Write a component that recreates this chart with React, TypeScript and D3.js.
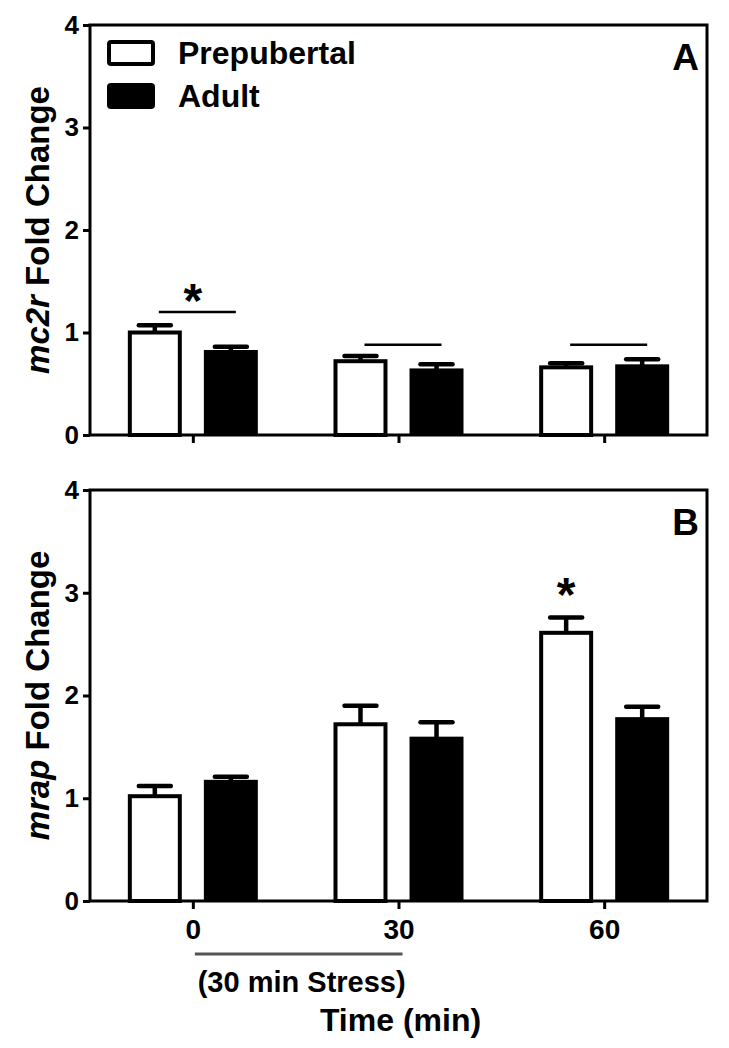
import { useEffect, useRef } from "react";
import * as d3 from "d3";

const WIDTH = 729;
const HEIGHT = 1048;
const FONT = "'Liberation Sans', Arial, sans-serif";

const groups = ["0", "30", "60"];
const series = ["Prepubertal", "Adult"];
const yTicks = [0, 1, 2, 3, 4];

// panel A: mc2r
const mc2rPre = [1.0, 0.72, 0.66];
const mc2rPreErr = [0.07, 0.05, 0.04];
const mc2rAdult = [0.81, 0.63, 0.67];
const mc2rAdultErr = [0.05, 0.06, 0.07];
const mc2rSigLines = [1.2, 0.88, 0.88];
const mc2rStars = ["0"];

// panel B: mrap
const mrapPre = [1.02, 1.72, 2.61];
const mrapPreErr = [0.1, 0.18, 0.15];
const mrapAdult = [1.16, 1.58, 1.77];
const mrapAdultErr = [0.05, 0.16, 0.12];
const mrapStars = ["60"];

const X0 = 90;
const X1 = 707;

type Panel = {
  gene: string;
  letter: string;
  top: number;
  bottom: number;
  pre: number[];
  preErr: number[];
  adult: number[];
  adultErr: number[];
  sigLines: number[] | null;
  stars: string[];
  labels: boolean;
};

const panels: Panel[] = [
  {
    gene: "mc2r",
    letter: "A",
    top: 25,
    bottom: 435,
    pre: mc2rPre,
    preErr: mc2rPreErr,
    adult: mc2rAdult,
    adultErr: mc2rAdultErr,
    sigLines: mc2rSigLines,
    stars: mc2rStars,
    labels: false,
  },
  {
    gene: "mrap",
    letter: "B",
    top: 490,
    bottom: 901,
    pre: mrapPre,
    preErr: mrapPreErr,
    adult: mrapAdult,
    adultErr: mrapAdultErr,
    sigLines: null,
    stars: mrapStars,
    labels: true,
  },
];

export default function App() {
  const svgRef = useRef<SVGSVGElement | null>(null);

  useEffect(() => {
    if (!svgRef.current) return;
    const svg = d3.select(svgRef.current);
    svg.selectAll("*").remove();

    const x = d3.scalePoint().domain(groups).range([X0, X1]).padding(0.5);
    const sub = d3.scaleBand().domain(series).range([-65, 65]).paddingInner(0.29);
    const bw = sub.bandwidth();

    panels.forEach((p) => {
      const y = d3.scaleLinear().domain([0, 4]).range([p.bottom, p.top]);
      const g = svg.append("g");

      // bars
      const rows = groups.flatMap((grp, i) => [
        { grp, s: "Prepubertal", v: p.pre[i], e: p.preErr[i] },
        { grp, s: "Adult", v: p.adult[i], e: p.adultErr[i] },
      ]);

      rows.forEach((d) => {
        const left = (x(d.grp) ?? 0) + (sub(d.s) ?? 0);
        const cx = left + bw / 2;
        // error bar (upper only)
        g.append("line")
          .attr("x1", cx)
          .attr("x2", cx)
          .attr("y1", y(d.v))
          .attr("y2", y(d.v + d.e))
          .attr("stroke", "#000")
          .attr("stroke-width", 4.5);
        g.append("line")
          .attr("x1", cx - 16)
          .attr("x2", cx + 16)
          .attr("y1", y(d.v + d.e))
          .attr("y2", y(d.v + d.e))
          .attr("stroke", "#000")
          .attr("stroke-width", 4.5)
          .attr("stroke-linecap", "round");
        if (d.s === "Prepubertal") {
          g.append("rect")
            .attr("x", left + 2)
            .attr("y", y(d.v))
            .attr("width", bw - 4)
            .attr("height", p.bottom - y(d.v))
            .attr("fill", "#fff")
            .attr("stroke", "#000")
            .attr("stroke-width", 4);
        } else {
          g.append("rect")
            .attr("x", left)
            .attr("y", y(d.v) - 2)
            .attr("width", bw)
            .attr("height", p.bottom - y(d.v) + 2)
            .attr("fill", "#000");
        }
      });

      // frame
      g.append("rect")
        .attr("x", X0)
        .attr("y", p.top)
        .attr("width", X1 - X0)
        .attr("height", p.bottom - p.top)
        .attr("fill", "none")
        .attr("stroke", "#000")
        .attr("stroke-width", 3);

      // y axis
      const yAxis = g
        .append("g")
        .attr("transform", `translate(${X0},0)`)
        .call(d3.axisLeft(y).tickValues(yTicks).tickSize(7).tickPadding(4).tickFormat(d3.format("d")));
      yAxis.select(".domain").remove();
      yAxis.selectAll("line").attr("stroke", "#000").attr("stroke-width", 3);
      yAxis
        .selectAll("text")
        .attr("fill", "#000")
        .style("font-family", FONT)
        .style("font-weight", "bold")
        .style("font-size", "26px");

      // x axis ticks
      const xAxis = g
        .append("g")
        .attr("transform", `translate(0,${p.bottom})`)
        .call(d3.axisBottom(x).tickSize(8).tickPadding(5));
      xAxis.select(".domain").remove();
      xAxis.selectAll("line").attr("stroke", "#000").attr("stroke-width", 3);
      xAxis
        .selectAll("text")
        .attr("fill", "#000")
        .attr("dy", "0.9em")
        .style("font-family", FONT)
        .style("font-weight", "bold")
        .style("font-size", "28px")
        .style("display", p.labels ? null : "none");

      // significance lines
      if (p.sigLines) {
        p.sigLines.forEach((v, i) => {
          const gx = x(groups[i]) ?? 0;
          g.append("line")
            .attr("x1", gx - 34)
            .attr("x2", gx + 43)
            .attr("y1", y(v))
            .attr("y2", y(v))
            .attr("stroke", "#000")
            .attr("stroke-width", 2.5);
        });
      }

      // stars
      p.stars.forEach((grp) => {
        const i = groups.indexOf(grp);
        let sx = x(grp) ?? 0;
        let sy: number;
        if (p.sigLines) {
          sy = y(p.sigLines[i]) - 22;
        } else {
          sx = sx + (sub("Prepubertal") ?? 0) + bw / 2;
          sy = y(p.pre[i] + p.preErr[i]) - 33;
        }
        g.append("text")
          .attr("x", sx)
          .attr("y", sy + 27)
          .attr("text-anchor", "middle")
          .style("font-family", FONT)
          .style("font-weight", "bold")
          .style("font-size", "48px")
          .text("*");
      });

      // panel letter
      g.append("text")
        .attr("x", X1 - 8)
        .attr("y", p.top + 45)
        .attr("text-anchor", "end")
        .style("font-family", FONT)
        .style("font-weight", "bold")
        .style("font-size", "37px")
        .text(p.letter);

      // y title
      const t = g
        .append("text")
        .attr("transform", `translate(49,${(p.top + p.bottom) / 2}) rotate(-90)`)
        .attr("text-anchor", "middle")
        .style("font-family", FONT)
        .style("font-weight", "bold")
        .style("font-size", "33px");
      t.append("tspan").style("font-style", "italic").text(p.gene);
      t.append("tspan").text(" Fold Change");
    });

    // legend
    const legend = svg.append("g");
    series.forEach((s, i) => {
      const ly = 40 + i * 43;
      legend
        .append("rect")
        .attr("x", 109)
        .attr("y", ly + 2)
        .attr("width", 44)
        .attr("height", 22)
        .attr("rx", 2)
        .attr("fill", i === 0 ? "#fff" : "#000")
        .attr("stroke", "#000")
        .attr("stroke-width", 4);
      legend
        .append("text")
        .attr("x", 178)
        .attr("y", ly + 24)
        .style("font-family", FONT)
        .style("font-weight", "bold")
        .style("font-size", "32px")
        .text(s);
    });

    // stress bar and x title
    const x0 = x("0") ?? 0;
    const x30 = x("30") ?? 0;
    svg
      .append("line")
      .attr("x1", x0 + 2)
      .attr("x2", x30 + 4)
      .attr("y1", 954)
      .attr("y2", 954)
      .attr("stroke", "#555")
      .attr("stroke-width", 3);
    svg
      .append("text")
      .attr("x", (x0 + x30) / 2 + 6)
      .attr("y", 992)
      .attr("text-anchor", "middle")
      .style("font-family", FONT)
      .style("font-weight", "bold")
      .style("font-size", "29px")
      .text("(30 min Stress)");
    svg
      .append("text")
      .attr("x", (X0 + X1) / 2 + 2)
      .attr("y", 1031)
      .attr("text-anchor", "middle")
      .style("font-family", FONT)
      .style("font-weight", "bold")
      .style("font-size", "32px")
      .text("Time (min)");
  }, []);

  return (
    <svg
      ref={svgRef}
      width={WIDTH}
      height={HEIGHT}
      style={{ position: "absolute", left: 0, top: 0, background: "#fff" }}
    />
  );
}
